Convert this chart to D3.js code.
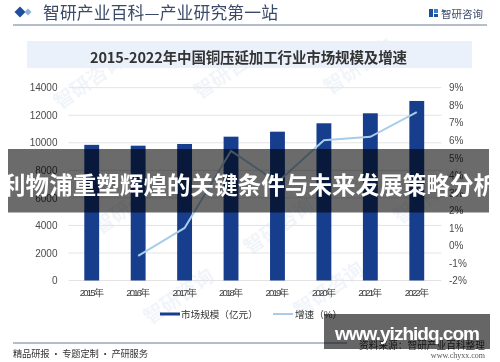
<!DOCTYPE html>
<html><head><meta charset="utf-8">
<script src="https://cdn.jsdelivr.net/npm/d3@7"></script>
<style>
html,body{margin:0;padding:0;background:#fff;}
svg{display:block;font-family:"Noto Sans CJK SC","Noto Sans",sans-serif;}
</style></head>
<body>
<svg id="c" width="500" height="362"></svg>
<script>
const years = ["2015年","2016年","2017年","2018年","2019年","2020年","2021年","2022年"];
const marketSize = [9850, 9790, 9913, 10443, 10806, 11416, 12142, 13036];
const growth = [null, -0.6, 1.0, 5.4, 3.6, 6.0, 6.2, 7.6];
const leftTicks = [0, 2000, 4000, 6000, 8000, 10000, 12000, 14000];
const rightTicks = [-2, -1, 0, 1, 2, 3, 4, 5, 6, 7, 8, 9];
const chartTitle = "2015-2022年中国铜压延加工行业市场规模及增速";
const headerTitle = "智研产业百科—产业研究第一站";
const bannerText = "利物浦重塑辉煌的关键条件与未来发展策略分析";
const legendLabels = ["市场规模（亿元）", "增速（%）"];

const svg = d3.select("#c");
const plot = {l: 68.5, r: 440, t: 87.7, b: 280.5};

// faint watermarks
const wm = svg.append("g").attr("fill", "#e3ebf4").attr("opacity", 0.5)
  .attr("font-size", 20).attr("font-weight", 700);
[[60,110],[200,100],[330,95],[100,235],[250,255],[400,225],[150,325],[300,318]].forEach(p => {
  wm.append("text").attr("x", p[0]).attr("y", p[1])
    .attr("transform", `rotate(-35,${p[0]},${p[1]})`).text("智研咨询");
});

// header
svg.append("path").attr("d", "M20,6.5 L25.5,12 L20,17.5 L14.5,12 Z").attr("fill", "#1f4e9e");
svg.append("path").attr("d", "M28,8.5 L31.5,12 L28,15.5 L24.5,12 Z").attr("fill", "#8fb1dc");
svg.append("text").attr("x", 43).attr("y", 11.5).attr("dominant-baseline", "central")
  .attr("font-size", 16.8).attr("font-weight", 400).attr("fill", "#3b4a68")
  .attr("textLength", 235).text(headerTitle);
// logo
const lg = svg.append("g");
lg.append("rect").attr("x", 429).attr("y", 9).attr("width", 4).attr("height", 8).attr("fill", "#1f4e9e");
lg.append("rect").attr("x", 434).attr("y", 9).attr("width", 4).attr("height", 4).attr("fill", "#3a7fd0");
lg.append("rect").attr("x", 434).attr("y", 14).attr("width", 4).attr("height", 3).attr("fill", "#1f4e9e");
svg.append("text").attr("x", 441).attr("y", 13).attr("dominant-baseline", "central")
  .attr("font-size", 10.5).attr("fill", "#3b4a68").attr("textLength", 42).text("智研咨询");
svg.append("line").attr("x1", 13).attr("x2", 487).attr("y1", 25).attr("y2", 25)
  .attr("stroke", "#6a7d98").attr("stroke-width", 1);

// chart title panel
svg.append("rect").attr("x", 27).attr("y", 41).attr("width", 445).attr("height", 27).attr("fill", "#eaf1fa");
svg.append("text").attr("x", 248.5).attr("y", 56).attr("dominant-baseline", "central")
  .attr("text-anchor", "middle").attr("font-size", 14.5).attr("font-weight", 600)
  .attr("fill", "#333").attr("textLength", 317).text(chartTitle);

// scales
const x = d3.scaleBand().domain(years).range([plot.l, plot.r]).paddingInner(0.68).paddingOuter(0.34);
const yL = d3.scaleLinear().domain([0, 14000]).range([plot.b, plot.t]);
const yR = d3.scaleLinear().domain([-2, 9]).range([plot.b, plot.t]);

// gridlines
svg.append("g").selectAll("line").data(leftTicks).join("line")
  .attr("x1", plot.l).attr("x2", plot.r + 1.5)
  .attr("y1", d => yL(d)).attr("y2", d => yL(d))
  .attr("stroke", "#e3e3e3").attr("stroke-width", 1);

// left axis
const axL = svg.append("g").attr("transform", `translate(${plot.l - 8},0)`)
  .call(d3.axisLeft(yL).tickValues(leftTicks).tickSize(0).tickFormat(d => d));
axL.select(".domain").remove();
axL.selectAll("text").attr("font-size", 10).attr("fill", "#4a4a4a").attr("font-family", "Liberation Sans, Arial, sans-serif");

// right axis
const axR = svg.append("g").attr("transform", `translate(${plot.r + 6},0)`)
  .call(d3.axisRight(yR).tickValues(rightTicks).tickSize(0).tickFormat(d => d + "%"));
axR.select(".domain").remove();
axR.selectAll("text").attr("font-size", 10).attr("fill", "#4a4a4a").attr("font-family", "Liberation Sans, Arial, sans-serif");

// bars
svg.append("g").selectAll("rect").data(marketSize).join("rect")
  .attr("x", (d, i) => x(years[i])).attr("width", x.bandwidth())
  .attr("y", d => yL(d)).attr("height", d => yL(0) - yL(d))
  .attr("fill", "#173d8d");

// line
const pts = growth.map((g, i) => ({g, i})).filter(d => d.g !== null);
svg.append("path").datum(pts)
  .attr("d", d3.line().x(d => x(years[d.i]) + x.bandwidth() / 2).y(d => yR(d.g)))
  .attr("fill", "none").attr("stroke", "#a9cde9").attr("stroke-width", 2);

// x labels
const axX = svg.append("g").attr("transform", `translate(0,${plot.b + 6})`)
  .call(d3.axisBottom(x).tickSize(0));
axX.select(".domain").remove();
axX.selectAll("text").attr("font-size", 9.5).attr("fill", "#3a3a3a").attr("textLength", 24);

// legend
svg.append("rect").attr("x", 160).attr("y", 312.5).attr("width", 20).attr("height", 3).attr("fill", "#173d8d");
svg.append("text").attr("x", 181).attr("y", 314).attr("dominant-baseline", "central")
  .attr("font-size", 9.6).attr("fill", "#333").text(legendLabels[0]);
svg.append("line").attr("x1", 273).attr("x2", 293).attr("y1", 314).attr("y2", 314)
  .attr("stroke", "#a9cde9").attr("stroke-width", 2);
svg.append("text").attr("x", 295).attr("y", 314).attr("dominant-baseline", "central")
  .attr("font-size", 9.6).attr("fill", "#333").text(legendLabels[1]);

// footer
svg.append("line").attr("x1", 13).attr("x2", 347).attr("y1", 343).attr("y2", 343)
  .attr("stroke", "#6a7d98").attr("stroke-width", 1);
svg.append("text").attr("x", 13).attr("y", 352.5).attr("dominant-baseline", "central")
  .attr("font-size", 9.3).attr("fill", "#333").attr("textLength", 135).text("精品研报 · 专题定制 · 产研服务");
svg.append("text").attr("x", 485).attr("y", 345).attr("dominant-baseline", "central").attr("text-anchor", "end")
  .attr("font-size", 9.7).attr("fill", "#333").text("资料来源：智研产业百科整理");
svg.append("text").attr("x", 485).attr("y", 355.5).attr("dominant-baseline", "central").attr("text-anchor", "end")
  .attr("font-size", 8).attr("fill", "#555").attr("font-family", "Liberation Serif, serif").text("www.chyxx.com");

// overlay banner
svg.append("rect").attr("x", 8).attr("y", 149).attr("width", 481).attr("height", 63.5)
  .attr("fill", "#000").attr("opacity", 0.58);
svg.append("text").attr("x", 249.5).attr("y", 183.5).attr("dominant-baseline", "central")
  .attr("text-anchor", "middle").attr("font-size", 23.5).attr("font-weight", 700)
  .attr("fill", "#fff").attr("textLength", 495).text(bannerText);

// site overlay box
svg.append("rect").attr("x", 324).attr("y", 314).attr("width", 166).attr("height", 35)
  .attr("fill", "#000").attr("opacity", 0.6);
svg.append("text").attr("x", 335).attr("y", 333).attr("dominant-baseline", "central")
  .attr("font-size", 19).attr("font-weight", 700).attr("fill", "#fff")
  .attr("font-family", "Liberation Sans, Arial, sans-serif").attr("textLength", 145).text("www.yizhidq.com");
</script>
</body></html>
